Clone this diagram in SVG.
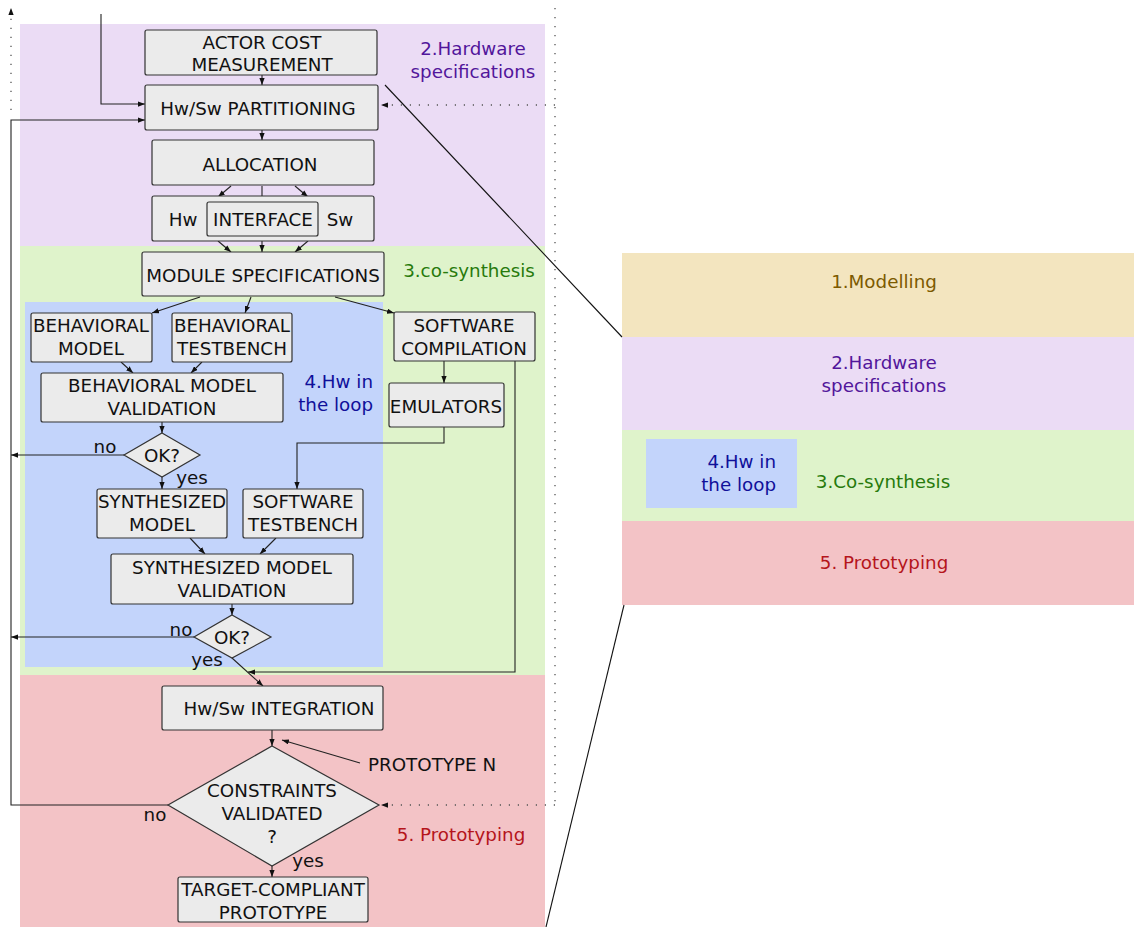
<svg xmlns="http://www.w3.org/2000/svg" width="1134" height="927" viewBox="0 0 1134 927">
<defs>
<style>
text{font-family:"DejaVu Sans","Liberation Sans",sans-serif;font-size:18.3px;fill:#111}
.c{text-anchor:middle}
.box{fill:#ebebeb;stroke:#333;stroke-width:1.2}
.ln{fill:none;stroke:#222;stroke-width:1.1}
.dot{fill:none;stroke:#555;stroke-width:1.3;stroke-dasharray:1.2 7.8}
.diag{fill:none;stroke:#111;stroke-width:1.1}
</style>
<marker id="ah" viewBox="0 0 8 6" refX="8" refY="3" markerWidth="7" markerHeight="5.5" markerUnits="userSpaceOnUse" orient="auto">
<path d="M0,0 L8,3 L0,6 Z" fill="#111"/>
</marker>
</defs>
<rect width="1134" height="927" fill="#fff"/>
<g id="regions">
<rect x="20" y="24" width="525" height="222" fill="#ebdcf5"/>
<rect x="20" y="246" width="525" height="429" fill="#dff3cb"/>
<rect x="25" y="302" width="358" height="365" fill="#c3d4fb"/>
<rect x="20" y="675" width="525" height="252" fill="#f3c3c6"/>
<text class="c" x="473" y="55" style="fill:#52169b">2.Hardware</text>
<text class="c" x="473" y="78" style="fill:#52169b">specifications</text>
<text class="c" x="469" y="277" style="fill:#277a0c">3.co-synthesis</text>
<text x="373" y="388" style="text-anchor:end;fill:#10109a">4.Hw in</text>
<text x="373" y="411" style="text-anchor:end;fill:#10109a">the loop</text>
<text class="c" x="461" y="841" style="fill:#b5151b">5. Prototyping</text>
</g>
<g id="legend">
<rect x="622" y="253" width="512" height="84" fill="#f3e5bf"/>
<rect x="622" y="337" width="512" height="93" fill="#ebdcf5"/>
<rect x="622" y="430" width="512" height="91" fill="#dff3cb"/>
<rect x="646" y="439" width="151" height="69" fill="#c3d4fb"/>
<rect x="622" y="521" width="512" height="84" fill="#f3c3c6"/>
<text class="c" x="884" y="288" style="fill:#7c5a00">1.Modelling</text>
<text class="c" x="884" y="369" style="fill:#52169b">2.Hardware</text>
<text class="c" x="884" y="392" style="fill:#52169b">specifications</text>
<text x="776" y="468" style="text-anchor:end;fill:#10109a">4.Hw in</text>
<text x="776" y="491" style="text-anchor:end;fill:#10109a">the loop</text>
<text class="c" x="883" y="488" style="fill:#277a0c">3.Co-synthesis</text>
<text class="c" x="884" y="569" style="fill:#b5151b">5. Prototyping</text>
</g>
<g id="connectors">
<line class="diag" x1="385" y1="85" x2="622" y2="337"/>
<line class="diag" x1="624" y1="605" x2="546" y2="927"/>
<line class="dot" x1="555" y1="8" x2="555" y2="805"/>
<line class="dot" x1="555" y1="105" x2="381" y2="105" marker-end="url(#ah)"/>
<line class="dot" x1="555" y1="805" x2="381" y2="805" marker-end="url(#ah)"/>
<line class="dot" x1="11" y1="110" x2="11" y2="8" marker-end="url(#ah)"/>
<path class="ln" d="M101,14 V104 H145" marker-end="url(#ah)"/>
<path class="ln" d="M168,805 H11 V120 H145" marker-end="url(#ah)"/>
<line class="ln" x1="262" y1="75" x2="262" y2="85" marker-end="url(#ah)"/>
<line class="ln" x1="262" y1="130" x2="262" y2="140" marker-end="url(#ah)"/>
<line class="ln" x1="231" y1="186" x2="218" y2="197" marker-end="url(#ah)"/>
<line class="ln" x1="262" y1="186" x2="262" y2="203" marker-end="url(#ah)"/>
<line class="ln" x1="295" y1="186" x2="308" y2="197" marker-end="url(#ah)"/>
<line class="ln" x1="218" y1="241" x2="231" y2="252" marker-end="url(#ah)"/>
<line class="ln" x1="262" y1="236" x2="262" y2="252" marker-end="url(#ah)"/>
<line class="ln" x1="308" y1="241" x2="295" y2="252" marker-end="url(#ah)"/>
<line class="ln" x1="200" y1="297" x2="152" y2="313" marker-end="url(#ah)"/>
<line class="ln" x1="251" y1="297" x2="245" y2="313" marker-end="url(#ah)"/>
<line class="ln" x1="335" y1="297" x2="394" y2="313" marker-end="url(#ah)"/>
<line class="ln" x1="121" y1="362" x2="133" y2="373" marker-end="url(#ah)"/>
<line class="ln" x1="202" y1="362" x2="191" y2="373" marker-end="url(#ah)"/>
<line class="ln" x1="162" y1="422" x2="162" y2="433" marker-end="url(#ah)"/>
<line class="ln" x1="124" y1="455" x2="11" y2="455" marker-end="url(#ah)"/>
<line class="ln" x1="162" y1="477" x2="162" y2="489" marker-end="url(#ah)"/>
<line class="ln" x1="444" y1="361" x2="444" y2="383" marker-end="url(#ah)"/>
<path class="ln" d="M444,427 V443 H297 V489" marker-end="url(#ah)"/>
<path class="ln" d="M515,361 V672 H248" marker-end="url(#ah)"/>
<line class="ln" x1="190" y1="538" x2="205" y2="554" marker-end="url(#ah)"/>
<line class="ln" x1="276" y1="538" x2="260" y2="554" marker-end="url(#ah)"/>
<line class="ln" x1="232" y1="604" x2="232" y2="615" marker-end="url(#ah)"/>
<line class="ln" x1="194" y1="637" x2="11" y2="637" marker-end="url(#ah)"/>
<line class="ln" x1="232" y1="658" x2="263" y2="686" marker-end="url(#ah)"/>
<line class="ln" x1="272" y1="730" x2="272" y2="746" marker-end="url(#ah)"/>
<line class="ln" x1="360" y1="763" x2="282" y2="740" marker-end="url(#ah)"/>
<line class="ln" x1="272" y1="866" x2="272" y2="877" marker-end="url(#ah)"/>
</g>
<g id="actor-cost"><rect class="box" x="145" y="30" width="232" height="45" rx="2"/><text class="c" x="262" y="48.5">ACTOR COST</text><text class="c" x="262" y="71">MEASUREMENT</text></g>
<g id="partitioning"><rect class="box" x="145" y="85" width="233" height="45" rx="2"/><text class="c" x="258" y="114.5">Hw/Sw PARTITIONING</text></g>
<g id="allocation"><rect class="box" x="152" y="140" width="222" height="45" rx="2"/><text class="c" x="260" y="170.5">ALLOCATION</text></g>
<g id="hwsw"><rect class="box" x="152" y="196" width="222" height="45" rx="2"/><text class="c" x="183" y="225.5">Hw</text><text class="c" x="340" y="225.5">Sw</text></g>
<g id="interface"><rect class="box" x="207" y="202" width="111" height="34" rx="2"/><text class="c" x="263" y="225.5">INTERFACE</text></g>
<g id="module-spec"><rect class="box" x="142" y="252" width="242" height="44" rx="2"/><text class="c" x="263" y="281.5">MODULE SPECIFICATIONS</text></g>
<g id="beh-model"><rect class="box" x="31" y="313" width="121" height="49" rx="2"/><text class="c" x="91" y="331.5">BEHAVIORAL</text><text class="c" x="91" y="354.5">MODEL</text></g>
<g id="beh-tb"><rect class="box" x="172" y="313" width="120" height="49" rx="2"/><text class="c" x="232" y="331.5">BEHAVIORAL</text><text class="c" x="232" y="354.5">TESTBENCH</text></g>
<g id="sw-comp"><rect class="box" x="394" y="312" width="141" height="49" rx="2"/><text class="c" x="464" y="331.5">SOFTWARE</text><text class="c" x="464" y="354.5">COMPILATION</text></g>
<g id="bmv"><rect class="box" x="41" y="373" width="242" height="49" rx="2"/><text class="c" x="162" y="391.5">BEHAVIORAL MODEL</text><text class="c" x="162" y="414.5">VALIDATION</text></g>
<g id="emulators"><rect class="box" x="389" y="383" width="115" height="44" rx="2"/><text class="c" x="446" y="412.5">EMULATORS</text></g>
<g id="ok1"><polygon class="box" points="162,433 200,455 162,477 124,455"/><text class="c" x="162" y="462">OK?</text></g>
<text class="c" x="105" y="453">no</text>
<text class="c" x="192" y="484">yes</text>
<g id="synth-model"><rect class="box" x="97" y="489" width="130" height="49" rx="2"/><text class="c" x="162" y="507.5">SYNTHESIZED</text><text class="c" x="162" y="530.5">MODEL</text></g>
<g id="sw-tb"><rect class="box" x="243" y="489" width="120" height="49" rx="2"/><text class="c" x="303" y="507.5">SOFTWARE</text><text class="c" x="303" y="530.5">TESTBENCH</text></g>
<g id="smv"><rect class="box" x="111" y="554" width="242" height="50" rx="2"/><text class="c" x="232" y="573.5">SYNTHESIZED MODEL</text><text class="c" x="232" y="596.5">VALIDATION</text></g>
<g id="ok2"><polygon class="box" points="232,615 271,637 232,658 194,637"/><text class="c" x="232" y="643.5">OK?</text></g>
<text class="c" x="181" y="636">no</text>
<text class="c" x="207" y="666">yes</text>
<g id="integration"><rect class="box" x="162" y="686" width="221" height="44" rx="2"/><text class="c" x="279" y="714.5">Hw/Sw INTEGRATION</text></g>
<g id="prototype-n"><text x="368" y="771">PROTOTYPE N</text></g>
<g id="constraints"><polygon class="box" points="272,746 379,805 272,866 168,805"/><text class="c" x="272" y="796.5">CONSTRAINTS</text><text class="c" x="272" y="819.5">VALIDATED</text><text class="c" x="272" y="842.5">?</text></g>
<text class="c" x="155" y="821">no</text>
<text class="c" x="308" y="867">yes</text>
<g id="target"><rect class="box" x="178" y="877" width="190" height="45" rx="2"/><text class="c" x="273" y="895.5">TARGET-COMPLIANT</text><text class="c" x="273" y="918.5">PROTOTYPE</text></g>
</svg>
